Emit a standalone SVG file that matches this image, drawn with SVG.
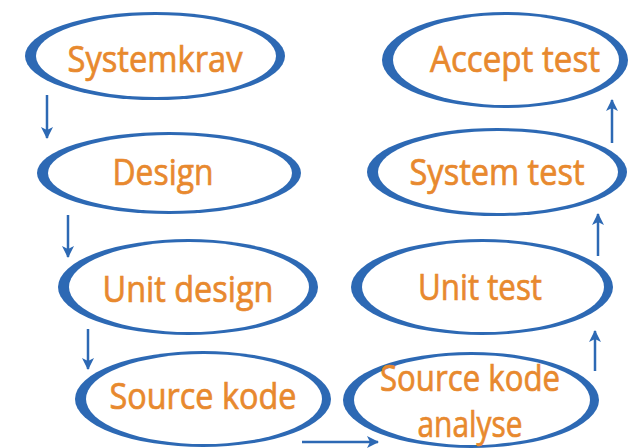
<svg xmlns="http://www.w3.org/2000/svg" width="630" height="448" viewBox="0 0 630 448">
<defs>
<style>
.ring{fill:#2d69b4;}
.hole{fill:#ffffff;}
.lbl{font-family:"Open Sans","Liberation Sans",sans-serif;font-size:36px;fill:#e8892e;stroke:#e8892e;stroke-width:0.7;text-anchor:middle;}
.con{stroke:#2d69b4;stroke-width:2.5;fill:none;}
</style>
<marker id="ah" viewBox="0 0 12 12" refX="11" refY="6" markerWidth="12" markerHeight="12" markerUnits="userSpaceOnUse" orient="auto">
<path d="M0,0 L12,6 L0,12 L3,6 Z" fill="#2d69b4"/>
</marker>
</defs>
<rect width="630" height="448" fill="#ffffff"/>
<g id="systemkrav">
<ellipse class="ring" cx="155" cy="56" rx="130" ry="44"/>
<ellipse class="hole" cx="156" cy="56" rx="120" ry="41"/>
<text class="lbl" x="155" y="72" textLength="175" lengthAdjust="spacingAndGlyphs">Systemkrav</text>
</g>
<g id="design">
<ellipse class="ring" cx="169" cy="173" rx="132" ry="41"/>
<ellipse class="hole" cx="170" cy="173" rx="122" ry="38"/>
<text class="lbl" x="163" y="185" textLength="101" lengthAdjust="spacingAndGlyphs">Design</text>
</g>
<g id="unitdesign">
<ellipse class="ring" cx="188" cy="287" rx="130" ry="48"/>
<ellipse class="hole" cx="189" cy="287" rx="120" ry="45"/>
<text class="lbl" x="188" y="302" textLength="171" lengthAdjust="spacingAndGlyphs">Unit design</text>
</g>
<g id="sourcekode">
<ellipse class="ring" cx="203" cy="399" rx="128" ry="48"/>
<ellipse class="hole" cx="204" cy="399" rx="118" ry="45"/>
<text class="lbl" x="203" y="409" textLength="187" lengthAdjust="spacingAndGlyphs">Source kode</text>
</g>
<g id="accepttest">
<ellipse class="ring" cx="505" cy="60" rx="123" ry="48"/>
<ellipse class="hole" cx="506" cy="60" rx="113" ry="45"/>
<text class="lbl" x="515" y="72" textLength="170" lengthAdjust="spacingAndGlyphs">Accept test</text>
</g>
<g id="systemtest">
<ellipse class="ring" cx="497" cy="172" rx="130" ry="44"/>
<ellipse class="hole" cx="498" cy="172" rx="120" ry="41"/>
<text class="lbl" x="497" y="185" textLength="175" lengthAdjust="spacingAndGlyphs">System test</text>
</g>
<g id="unittest">
<ellipse class="ring" cx="482" cy="287" rx="131" ry="48"/>
<ellipse class="hole" cx="483" cy="287" rx="121" ry="45"/>
<text class="lbl" x="480" y="300" textLength="124" lengthAdjust="spacingAndGlyphs">Unit test</text>
</g>
<g id="sourcekodeanalyse">
<ellipse class="ring" cx="471" cy="400" rx="128" ry="48"/>
<ellipse class="hole" cx="472" cy="400" rx="118" ry="45"/>
<text class="lbl" x="470" y="391" textLength="180" lengthAdjust="spacingAndGlyphs">Source kode</text>
<text class="lbl" x="470" y="437" textLength="105" lengthAdjust="spacingAndGlyphs">analyse</text>
</g>
<g id="connectors">
<line class="con" x1="47" y1="95" x2="47" y2="138" marker-end="url(#ah)"/>
<line class="con" x1="68" y1="215" x2="68" y2="257" marker-end="url(#ah)"/>
<line class="con" x1="88" y1="329" x2="88" y2="369" marker-end="url(#ah)"/>
<line class="con" x1="302" y1="442" x2="378" y2="442" marker-end="url(#ah)"/>
<line class="con" x1="595" y1="371" x2="595" y2="331" marker-end="url(#ah)"/>
<line class="con" x1="598" y1="256" x2="598" y2="214" marker-end="url(#ah)"/>
<line class="con" x1="612" y1="143" x2="612" y2="100" marker-end="url(#ah)"/>
</g>
</svg>
